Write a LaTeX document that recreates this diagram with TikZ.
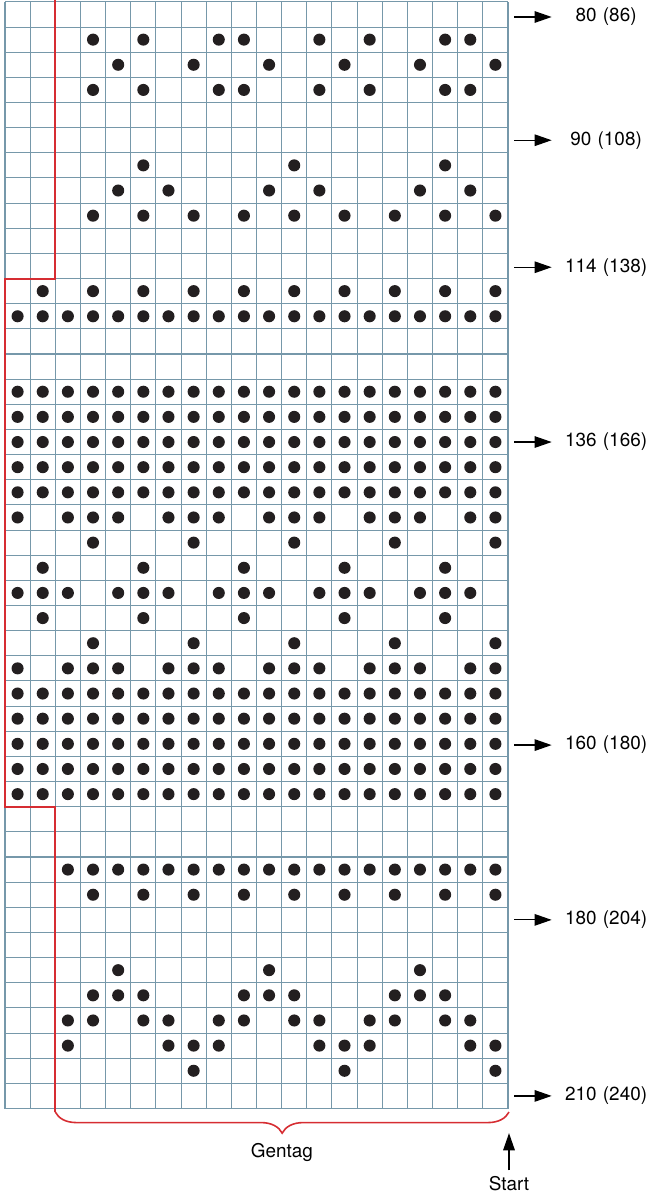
\documentclass[tikz,border=0pt]{standalone}
\usepackage{fontspec}
\setmainfont{TeX Gyre Heros}
\usetikzlibrary{arrows.meta,decorations.pathreplacing}
\definecolor{chartgrid}{RGB}{118,152,170}
\definecolor{repeatred}{RGB}{214,45,50}
\definecolor{stitchdot}{RGB}{35,31,32}
\tikzset{stitch/.style={fill=stitchdot},
 rowarrow/.style={-{Triangle[length=3.4mm,width=2.3mm]},line width=.7pt},
 rowlabel/.style={inner sep=0pt,text width=2.15cm,align=center},
 every node/.style={font=\fontsize{10.7}{13}\selectfont}}

\begin{document}
\begin{tikzpicture}[x=.5cm,y=.5cm]
\useasboundingbox (-0.199,-3.479) rectangle (25.686,44.076);
\draw[chartgrid,line width=.6pt,step=.5cm] (0,0) grid (20,44);
% rows counted from the top, columns from the left
\foreach \r/\cols in {1/{3,5,8,9,12,14,17,18},2/{4,7,10,13,16,19},3/{3,5,8,9,12,14,17,18},
 6/{5,11,17},7/{4,6,10,12,16,18},8/{3,5,...,19},
 11/{1,3,...,19},12/{0,...,19},15/{0,...,19},16/{0,...,19},17/{0,...,19},18/{0,...,19},19/{0,...,19},
 20/{0,2,3,4,6,7,8,10,11,12,14,15,16,18,19},21/{3,7,11,15,19},22/{1,5,9,13,17},
 23/{0,1,2,4,5,6,8,9,10,12,13,14,16,17,18},24/{1,5,9,13,17},25/{3,7,11,15,19},
 26/{0,2,3,4,6,7,8,10,11,12,14,15,16,18,19},
 27/{0,...,19},28/{0,...,19},29/{0,...,19},30/{0,...,19},31/{0,...,19},
 34/{2,...,19},35/{3,5,...,19},38/{4,10,16},39/{3,4,5,9,10,11,15,16,17},
 40/{2,3,5,6,8,9,11,12,14,15,17,18},41/{2,6,7,8,12,13,14,18,19},42/{7,13,19}}
 \foreach \c in \cols
 \fill[stitch] (\c+.5,43.5-\r) circle (.12cm);
% repeat outline and brace
\coordinate (redtop) at (2,44.08);
\coordinate (bracestart) at (2,-.14);
\coordinate (braceend) at (20.04,-.14);
\draw[repeatred,line width=1.1pt] (redtop) |- (0,33) |- (2,12) -- (bracestart);
\draw[repeatred,line width=.9pt,decorate,decoration={brace,mirror,amplitude=.42cm}]
 (bracestart) -- (braceend);
\node (gentag) at (11.01,-1.73) {Gentag};
% row counts on the right
\foreach \n/\t/\y in {80/80 (86)/43.4,90/90 (108)/38.5,114/114 (138)/33.45,136/136 (166)/26.5,
 160/160 (180)/14.45,180/180 (204)/7.5,210/210 (240)/.5}{
 \coordinate (a\n) at (20.24,\y);
 \node[rowlabel] (l\n) at (23.9,\y) {\t};
 \draw[rowarrow] (a\n) -- (l\n.west);
}
\node (start) at (20.04,-3) {Start};
\coordinate (starttip) at (20.04,-.98);
\draw[rowarrow] (start) -- (starttip);
\end{tikzpicture}
\end{document}
